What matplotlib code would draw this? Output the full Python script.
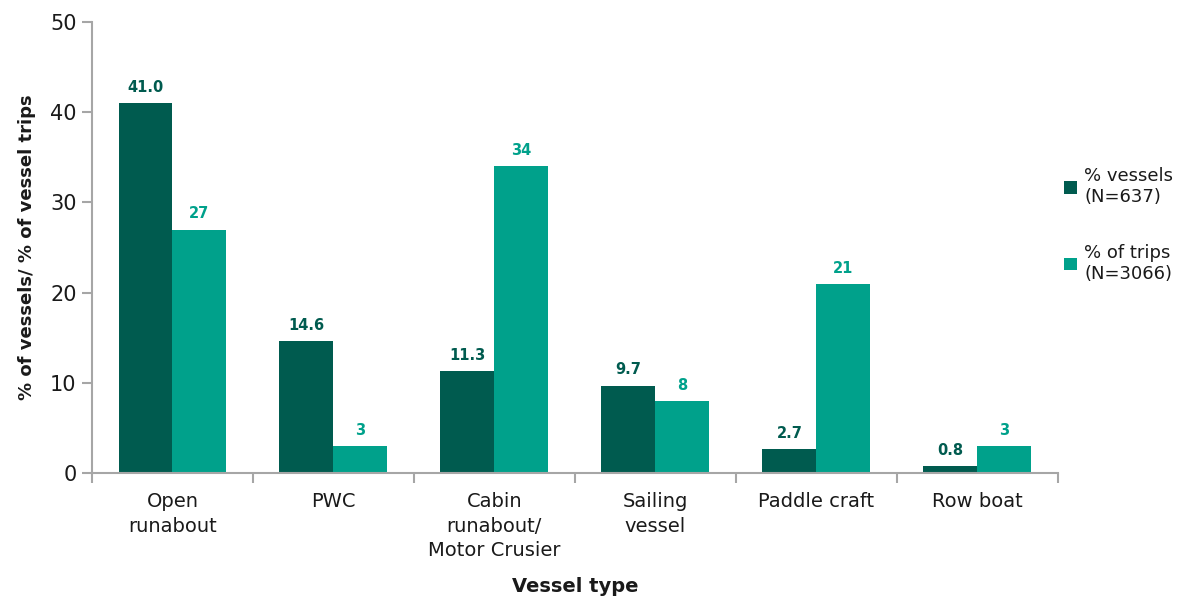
import numpy as np
import matplotlib
matplotlib.use("Agg")
from matplotlib import pyplot as plt

# Vessel share vs trip share by vessel type
categories = ["Open\nrunabout", "PWC", "Cabin\nrunabout/\nMotor Crusier",
              "Sailing\nvessel", "Paddle craft", "Row boat"]
pct_vessels = [41.0, 14.6, 11.3, 9.7, 2.7, 0.8]
pct_trips = [27, 3, 34, 8, 21, 3]
vessel_labels = ["41.0", "14.6", "11.3", "9.7", "2.7", "0.8"]
trip_labels = ["27", "3", "34", "8", "21", "3"]

dark = "#005b4f"
teal = "#00a18b"
gray = "#a6a6a6"
ink = "#1a1a1a"

plt.rcParams["font.family"] = ["DejaVu Sans"]

fig = plt.figure(figsize=(11.91, 5.98), dpi=100)
ax = fig.add_axes([0.0772, 0.209, 0.811, 0.754])

x = np.arange(len(categories))
w = 0.335
b1 = ax.bar(x - w / 2, pct_vessels, w, color=dark, label="% vessels\n(N=637)")
b2 = ax.bar(x + w / 2, pct_trips, w, color=teal, label="% of trips\n(N=3066)")

for rect, txt in zip(b1, vessel_labels):
    ax.text(rect.get_x() + rect.get_width() / 2, rect.get_height() + 0.9, txt,
            ha="center", va="bottom", color=dark, fontsize=10.5, fontweight="bold")
for rect, txt in zip(b2, trip_labels):
    ax.text(rect.get_x() + rect.get_width() / 2, rect.get_height() + 0.9, txt,
            ha="center", va="bottom", color=teal, fontsize=10.5, fontweight="bold")

ax.set_xlim(-0.5, len(categories) - 0.5)
ax.set_ylim(0, 50)
ax.set_yticks([0, 10, 20, 30, 40, 50])
ax.tick_params(axis="y", labelsize=15, length=7, color=gray, width=1.5, pad=4,
               labelcolor=ink)

# category labels sit between boundary ticks
ax.set_xticks(np.arange(len(categories) + 1) - 0.5)
ax.set_xticklabels([])
ax.set_xticks(x, minor=True)
ax.set_xticklabels(categories, minor=True, fontsize=14, linespacing=1.35)
ax.tick_params(axis="x", which="major", length=7, color=gray, width=1.5)
ax.tick_params(axis="x", which="minor", length=0, pad=14, labelcolor=ink)

for side in ["top", "right"]:
    ax.spines[side].set_visible(False)
for side in ["left", "bottom"]:
    ax.spines[side].set_color(gray)
    ax.spines[side].set_linewidth(1.5)

ax.set_ylabel("% of vessels/ % of vessel trips", fontsize=13, fontweight="bold",
              labelpad=10, color=ink)
ax.set_xlabel("Vessel type", fontsize=14, fontweight="bold", labelpad=12, color=ink)

ax.legend(loc="center left", bbox_to_anchor=(0.99, 0.55), frameon=False, fontsize=13,
          handlelength=0.7, handleheight=0.7, handletextpad=0.4, labelspacing=2.1,
          labelcolor=ink)

fig.savefig("out.png", dpi=100)
